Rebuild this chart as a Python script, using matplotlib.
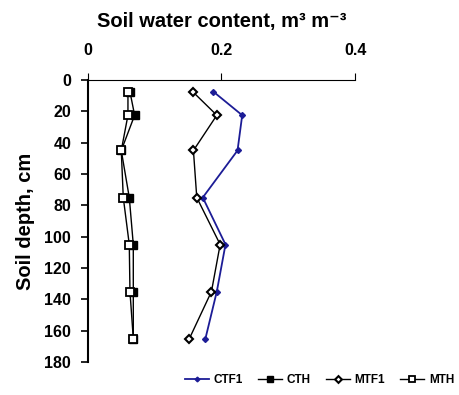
import matplotlib.pyplot as plt
import numpy as np

plt.rcParams['font.family'] = ['Liberation Sans', 'DejaVu Sans']
plt.rcParams['font.weight'] = 'bold'

# depths of the sampling layers (cm)
depth = [7.5, 22.5, 45, 75, 105, 135, 165]

ctf1 = [0.188, 0.231, 0.224, 0.172, 0.206, 0.193, 0.176]
cth = [0.063, 0.070, 0.050, 0.062, 0.068, 0.068, 0.068]
mtf1 = [0.157, 0.193, 0.158, 0.163, 0.198, 0.185, 0.152]
mth = [0.060, 0.060, 0.050, 0.053, 0.062, 0.063, 0.068]

fig = plt.figure(figsize=(4.6, 3.95), dpi=100)
ax = fig.add_axes([0.191, 0.0835, 0.581, 0.714])

ax.plot(ctf1, depth, color='#1c1c96', lw=1.3, marker='D', ms=3,
        mfc='#1c1c96', mec='#1c1c96', label='CTF1')
ax.plot(cth, depth, color='black', lw=1, marker='s', ms=6,
        mfc='black', mec='black', label='CTH')
ax.plot(mtf1, depth, color='black', lw=1, marker='D', ms=4.3,
        mfc='white', mec='black', mew=1.5, label='MTF1')
ax.plot(mth, depth, color='black', lw=1, marker='s', ms=6,
        mfc='white', mec='black', mew=1.3, label='MTH')

ax.set_xlim(0, 0.4)
ax.set_ylim(180, 0)
ax.set_xticks([0, 0.2, 0.4])
ax.set_xticklabels(['0', '0.2', '0.4'], fontweight='bold')
ax.set_yticks(np.arange(0, 181, 20))
ax.set_yticklabels([str(v) for v in range(0, 181, 20)], fontweight='bold')

ax.xaxis.tick_top()
ax.xaxis.set_label_position('top')
ax.spines['right'].set_visible(False)
ax.spines['bottom'].set_visible(False)
ax.spines['left'].set_linewidth(1.5)
ax.spines['top'].set_linewidth(0.8)
ax.tick_params(axis='x', direction='out', length=5, width=0.8, labelsize=11.5, pad=11)
ax.tick_params(axis='y', direction='out', length=5, width=1.2, labelsize=11.5, pad=7)

ax.set_xlabel('Soil water content, m³ m⁻³', fontsize=14.5,
              fontweight='bold', labelpad=11)
ax.set_ylabel('Soil depth, cm', fontsize=14.5, fontweight='bold', labelpad=7)

fig.legend(loc='lower center', ncol=4, bbox_to_anchor=(0.695, -0.005),
           frameon=False, prop={'size': 8.5, 'weight': 'bold'},
           handlelength=2.0, columnspacing=1.3, handletextpad=0.4,
           markerscale=0.8)

fig.savefig('out.png', dpi=100)
